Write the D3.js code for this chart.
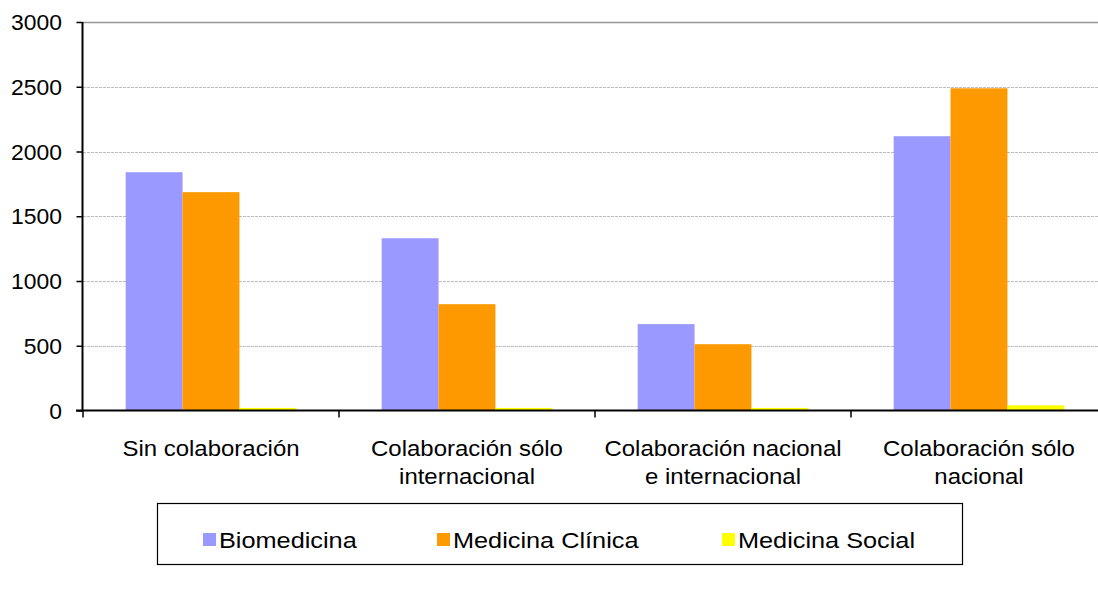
<!DOCTYPE html>
<html><head><meta charset="utf-8">
<script src="https://cdn.jsdelivr.net/npm/d3@7"></script>
<style>body{margin:0;background:#fff}svg{display:block}text{font-family:"Liberation Sans",Arial,sans-serif;fill:#000}</style>
</head><body><svg id="c" width="1098" height="592"></svg>
<script>
const categories = [["Sin colaboración"],["Colaboración sólo","internacional"],["Colaboración nacional","e internacional"],["Colaboración sólo","nacional"]];
const seriesNames = ["Biomedicina","Medicina Clínica","Medicina Social"];
const biomedicina = [1840, 1330, 667, 2118];
const medicinaClinica = [1686, 821, 512, 2488];
const medicinaSocial = [20, 20, 20, 40];
const yTicks = [0,500,1000,1500,2000,2500,3000];
const colors = ["#9999FF","#FF9900","#FFFF00"];
const values = [biomedicina, medicinaClinica, medicinaSocial];

const svg = d3.select("#c");
const x = d3.scaleBand().domain(d3.range(categories.length)).range([83,1107]).paddingInner(0).paddingOuter(0);
const y = d3.scaleLinear().domain([0,3000]).range([410.5,22]);
// Excel gap width 150%: bar width w = band/4.5, outer gap 0.75w
const w = x.bandwidth()/4.5;

// gridlines
svg.append("g").selectAll("line").data(yTicks.filter(d=>d>0)).join("line")
  .attr("x1",83).attr("x2",1107).attr("y1",d=>Math.round(y(d))+0.5).attr("y2",d=>Math.round(y(d))+0.5)
  .attr("stroke",d=>d===3000?"#999":"#bbb").attr("stroke-width",d=>d===3000?1.5:1)
  .attr("stroke-dasharray",d=>d===3000?null:"3,1");

// bars
values.forEach((vals,s)=>{
  svg.append("g").selectAll("rect").data(vals).join("rect")
    .attr("x",(d,i)=>x(i)+0.75*w+s*w)
    .attr("width",w)
    .attr("y",d=>y(d))
    .attr("height",d=>y(0)-y(d))
    .attr("fill",colors[s]);
});

// y axis
const ya = svg.append("g").attr("transform","translate(82.5,0)")
  .call(d3.axisLeft(y).tickValues(yTicks).tickSize(6).tickPadding(12).tickFormat(d3.format("d")));
ya.select(".domain").attr("stroke","#000").attr("stroke-width",2).attr("d","M0,"+y(3000)+"V"+y(0));
ya.selectAll(".tick line").attr("stroke","#000").attr("stroke-width",1.5);
ya.selectAll(".tick text").style("font-size","22px").attr("dy","0.35em").attr("x",0)
  .attr("transform","translate(-20.5,0) scale(1.04,1)");

// x axis
svg.append("line").attr("x1",76).attr("x2",1107).attr("y1",y(0)).attr("y2",y(0)).attr("stroke","#000").attr("stroke-width",2);
svg.append("g").selectAll("line").data(d3.range(categories.length+1)).join("line")
  .attr("x1",i=>i<categories.length?x(i):1107).attr("x2",i=>i<categories.length?x(i):1107)
  .attr("y1",y(0)).attr("y2",y(0)+7).attr("stroke","#000").attr("stroke-width",1.5);

// category labels
const lab = svg.append("g").selectAll("text").data(categories).join("text")
  .attr("text-anchor","middle").style("font-size","22px")
  .attr("transform",(d,i)=>`translate(${x(i)+x.bandwidth()/2},456) scale(1.09,1)`);
lab.selectAll("tspan").data(d=>d).join("tspan").attr("x",0).attr("dy",(d,j)=>j===0?0:28).text(d=>d);

// legend
svg.append("rect").attr("x",157.5).attr("y",503.5).attr("width",805).attr("height",61).attr("fill","none").attr("stroke","#000").attr("stroke-width",1.2);
const lx = [203,437,722];
const lg = svg.append("g").selectAll("g").data(seriesNames).join("g").attr("transform",(d,i)=>`translate(${lx[i]},533)`);
lg.append("rect").attr("width",13).attr("height",13).attr("fill",(d,i)=>colors[i]);
lg.append("text").attr("transform","translate(16,15) scale(1.15,1)").style("font-size","22px").text(d=>d);
</script></body></html>
